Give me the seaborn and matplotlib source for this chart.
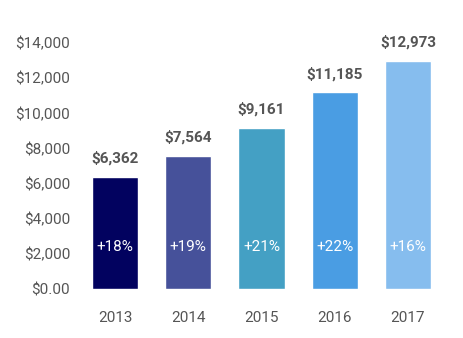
import matplotlib
matplotlib.use("Agg")
import matplotlib.pyplot as plt
import seaborn as sns
import pandas as pd

years = ["2013", "2014", "2015", "2016", "2017"]
values = [6362, 7564, 9161, 11185, 12973]
growth = ["+18%", "+19%", "+21%", "+22%", "+16%"]
value_labels = ["$6,362", "$7,564", "$9,161", "$11,185", "$12,973"]
colors = ["#02025f", "#46519a", "#44a0c4", "#4a9de3", "#86bdee"]
yticks = [0, 2000, 4000, 6000, 8000, 10000, 12000, 14000]
ytick_labels = ["$0.00", "$2,000", "$4,000", "$6,000", "$8,000", "$10,000", "$12,000", "$14,000"]

sns.set_style("white")
plt.rcParams["font.family"] = ["Roboto", "DejaVu Sans"]

df = pd.DataFrame({"year": years, "value": values})

fig = plt.figure(figsize=(4.64, 3.38), dpi=100)
ax = fig.add_axes([0.169, 0.145, 0.789, 0.728])
sns.barplot(data=df, x="year", y="value", hue="year", palette=colors,
            legend=False, width=0.63, ax=ax, saturation=1)

ax.set_ylim(0, 14000)
ax.set_xlim(-0.5, 4.5)
ax.set_yticks(yticks)
ax.set_yticklabels(ytick_labels)
ax.set_xlabel("")
ax.set_ylabel("")
ax.tick_params(axis="y", length=0, pad=6, labelsize=11, labelcolor="#555555")
ax.tick_params(axis="x", length=0, pad=16, labelsize=11, labelcolor="#555555")
for s in ax.spines.values():
    s.set_visible(False)

for i, (v, vl, g) in enumerate(zip(values, value_labels, growth)):
    ax.annotate(vl, (i, v), xytext=(0, 8), textcoords="offset points",
                ha="center", va="bottom", fontsize=11, fontweight="bold",
                color="#555555", annotation_clip=False)
    ax.text(i, 2400, g, ha="center", va="center", fontsize=11, color="white")

fig.savefig("out.png", dpi=100)
